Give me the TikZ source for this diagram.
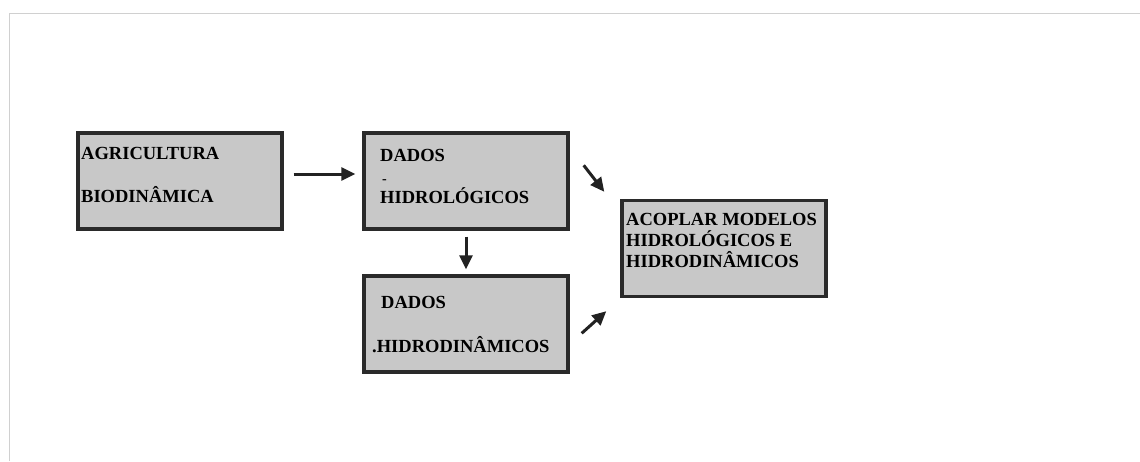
\documentclass[tikz,border=0pt]{standalone}
\usepackage{fontspec}
\setmainfont{Liberation Serif}
\usetikzlibrary{arrows.meta}
\definecolor{boxfill}{HTML}{C8C8C8}
\definecolor{boxline}{HTML}{2A2A2A}
\definecolor{frameline}{HTML}{D0D0D0}
\definecolor{arrowcol}{HTML}{222222}
\begin{document}
\begin{tikzpicture}[x=1pt,y=-1pt,
  stepbox/.style={draw=boxline,fill=boxfill,line width=3.4pt,inner sep=0pt},
  lbl/.style={anchor=base west,inner sep=0pt,font=\fontsize{18.5}{20}\selectfont\bfseries,text=black},
  conn/.style={draw=arrowcol,line width=3pt,-{Triangle[length=14pt,width=13pt]}}]
\useasboundingbox (0,0) rectangle (1140,461);
\fill[white] (0,0) rectangle (1140,461);
\draw[frameline,line width=1pt] (9,461) -- (9,13) -- (1140,13);
% boxes
\node[stepbox,minimum width=204pt,minimum height=96pt] (A) at (180,181) {};
\node[stepbox,minimum width=204pt,minimum height=96pt] (B) at (466,181) {};
\node[stepbox,minimum width=204pt,minimum height=96pt] (C) at (466,324) {};
\node[stepbox,minimum width=204pt,minimum height=96pt] (D) at (724,248.5) {};
% texts
\node[lbl] (a1) at (81,159) {AGRICULTURA};
\node[lbl] (a2) at (81,202) {BIODINÂMICA};
\node[lbl] (b1) at (380,161) {DADOS};
\node[lbl,font=\fontsize{14}{14}\selectfont\bfseries] (b0) at (382,183) {-};
\node[lbl] (b2) at (380,203) {HIDROLÓGICOS};
\node[lbl] (c1) at (381,308) {DADOS};
\node[lbl] (c2) at (372,352) {.HIDRODINÂMICOS};
\node[lbl] (d1) at (626,225) {ACOPLAR MODELOS};
\node[lbl] (d2) at (626,246) {HIDROLÓGICOS E};
\node[lbl] (d3) at (626,267) {HIDRODINÂMICOS};
% connectors
\draw[conn,shorten <=10pt,shorten >=7pt] ([yshift=7pt]A.east) -- ([yshift=7pt]B.west);
\draw[conn,shorten <=6pt,shorten >=5pt] (B.south) -- (C.north);
\draw[conn] ([xshift=14pt,yshift=-34pt]B.north east) -- ([xshift=-16pt,yshift=7pt]D.north west);
\draw[conn] ([xshift=12pt,yshift=-59pt]C.north east) -- ([xshift=-14pt,yshift=-13pt]D.south west);
\end{tikzpicture}
\end{document}
